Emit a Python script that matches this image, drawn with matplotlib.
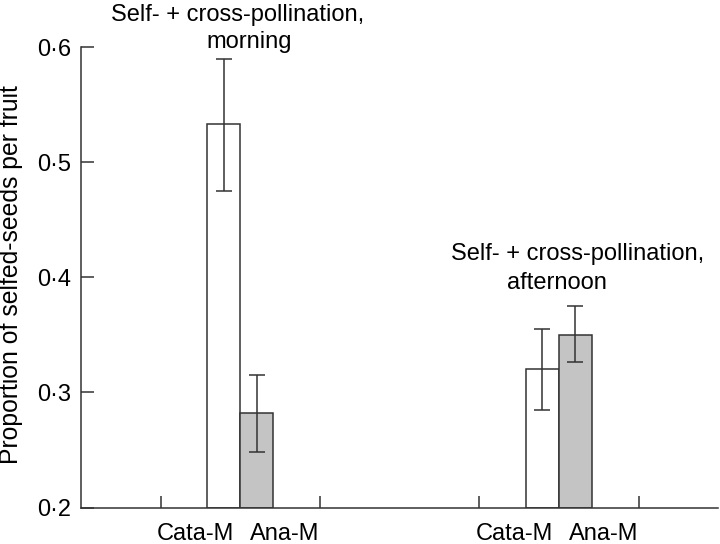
import matplotlib.pyplot as plt
from matplotlib.ticker import FuncFormatter

plt.rcParams['font.family'] = ['Liberation Sans', 'DejaVu Sans']
plt.rcParams['font.size'] = 17

# data
groups = ["Self- + cross-pollination,\nmorning", "Self- + cross-pollination,\nafternoon"]
bar_names = ["Cata-M", "Ana-M"]
cata_mean = [0.533, 0.320]
cata_low = [0.475, 0.285]
cata_high = [0.590, 0.355]
ana_mean = [0.282, 0.350]
ana_low = [0.248, 0.326]
ana_high = [0.315, 0.375]

centers = [0.5, 2.5]
w = 0.206
edge = '#333333'

fig = plt.figure(figsize=(7.2, 5.44), dpi=100)
ax = fig.add_axes([0.1125, 0.067, 0.885, 0.8465])

x_cata = [c - w / 2 for c in centers]
x_ana = [c + w / 2 for c in centers]
ax.bar(x_cata, [m - 0.2 for m in cata_mean], w, bottom=0.2, color='white', edgecolor=edge, linewidth=1.1)
ax.bar(x_ana, [m - 0.2 for m in ana_mean], w, bottom=0.2, color='#c4c4c4', edgecolor=edge, linewidth=1.1)
ax.errorbar(x_cata, cata_mean, yerr=[[m - l for m, l in zip(cata_mean, cata_low)], [h - m for m, h in zip(cata_mean, cata_high)]],
            fmt='none', ecolor=edge, elinewidth=1.1, capsize=6, capthick=1.1)
ax.errorbar(x_ana, ana_mean, yerr=[[m - l for m, l in zip(ana_mean, ana_low)], [h - m for m, h in zip(ana_mean, ana_high)]],
            fmt='none', ecolor=edge, elinewidth=1.1, capsize=6, capthick=1.1)

ax.set_xlim(-0.5, 3.5)
ax.set_ylim(0.2, 0.6)
ax.set_yticks([0.2, 0.3, 0.4, 0.5, 0.6])
ax.yaxis.set_major_formatter(FuncFormatter(lambda v, p: f"{v:.1f}".replace('.', '\u00b7')))
ax.set_xticks([0, 1, 2, 3])
ax.set_xticklabels([])
lab_pos = []
lab_txt = []
for c in centers:
    lab_pos += [c - 0.28, c + 0.28]
    lab_txt += bar_names
ax.set_xticks(lab_pos, minor=True)
ax.set_xticklabels(lab_txt, minor=True)
ax.tick_params(axis='x', which='minor', length=0, pad=11)
ax.tick_params(which='major', direction='in', length=9, width=1.1, color=edge)
ax.tick_params(axis='y', pad=7)

for s in ['top', 'right']:
    ax.spines[s].set_visible(False)
for s in ['left', 'bottom']:
    ax.spines[s].set_color(edge)
    ax.spines[s].set_linewidth(1.1)

# y label placed by hand so it sits at the left edge like the reference
fig.text(11 / 720, 1 - 275 / 544, "Proportion of selfed-seeds per fruit",
         rotation=90, ha='center', va='center', fontsize=17.8)

# group annotations
line1_x = [0.48, 2.62]
line2_x = [0.556, 2.49]
line1_y = [0.623, 0.415]
line2_y = [0.599, 0.390]
for g, x1, x2, y1, y2 in zip(groups, line1_x, line2_x, line1_y, line2_y):
    a, b = g.split('\n')
    ax.text(x1, y1, a, ha='center', va='baseline', clip_on=False)
    ax.text(x2, y2, b, ha='center', va='baseline', clip_on=False)

fig.savefig('out.png', dpi=100)
